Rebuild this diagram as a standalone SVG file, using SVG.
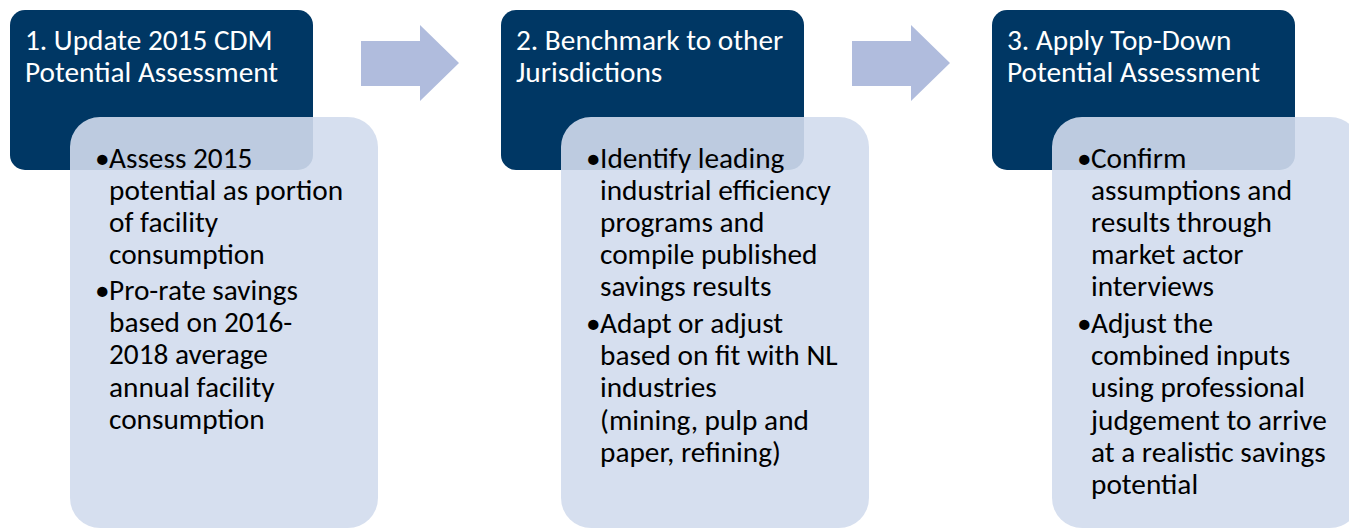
<svg xmlns="http://www.w3.org/2000/svg" width="1349" height="529" viewBox="0 0 1349 529">
<style>
.hdr{fill:#003764;}
.body{fill:#d1dced;fill-opacity:0.9;}
.arrow{fill:#b0bcdd;}
.t{font-family:Carlito,Lato,"Liberation Sans",sans-serif;font-size:29.3px;}
.ht{fill:#ffffff;}
.bt{fill:#000000;}
</style>
<g id="connectors">
<polygon class="arrow" points="361,41 420,41 420,25 459,63 420,101 420,86 361,86"/>
<polygon class="arrow" points="852,41 911,41 911,25 950,63 911,101 911,86 852,86"/>
</g>
<g id="step1">
<rect class="hdr" x="10" y="10" width="303" height="160" rx="15"/>
<text class="t ht" x="25" y="50">1. Update 2015 CDM</text>
<text class="t ht" x="25" y="82">Potential Assessment</text>
<rect class="body" x="70" y="117" width="308" height="411" rx="30"/>
<text class="t bt">
<tspan x="95" y="168">•</tspan><tspan x="109" y="168">Assess 2015</tspan>
<tspan x="109" y="200">potential as portion</tspan>
<tspan x="109" y="232">of facility</tspan>
<tspan x="109" y="264">consumption</tspan>
<tspan x="95" y="300">•</tspan><tspan x="109" y="300">Pro-rate savings</tspan>
<tspan x="109" y="332">based on 2016-</tspan>
<tspan x="109" y="364">2018 average</tspan>
<tspan x="109" y="397">annual facility</tspan>
<tspan x="109" y="429">consumption</tspan>
</text>
</g>
<g id="step2">
<rect class="hdr" x="501" y="10" width="303" height="160" rx="15"/>
<text class="t ht" x="516" y="50">2. Benchmark to other</text>
<text class="t ht" x="516" y="82">Jurisdictions</text>
<rect class="body" x="561" y="117" width="308" height="411" rx="30"/>
<text class="t bt">
<tspan x="586" y="168">•</tspan><tspan x="600" y="168">Identify leading</tspan>
<tspan x="600" y="200">industrial efficiency</tspan>
<tspan x="600" y="232">programs and</tspan>
<tspan x="600" y="264">compile published</tspan>
<tspan x="600" y="296">savings results</tspan>
<tspan x="586" y="333">•</tspan><tspan x="600" y="333">Adapt or adjust</tspan>
<tspan x="600" y="365">based on fit with NL</tspan>
<tspan x="600" y="397">industries</tspan>
<tspan x="600" y="430">(mining, pulp and</tspan>
<tspan x="600" y="462">paper, refining)</tspan>
</text>
</g>
<g id="step3">
<rect class="hdr" x="992" y="10" width="303" height="160" rx="15"/>
<text class="t ht" x="1007" y="50">3. Apply Top-Down</text>
<text class="t ht" x="1007" y="82">Potential Assessment</text>
<rect class="body" x="1052" y="117" width="308" height="411" rx="30"/>
<text class="t bt">
<tspan x="1077" y="168">•</tspan><tspan x="1091" y="168">Confirm</tspan>
<tspan x="1091" y="200">assumptions and</tspan>
<tspan x="1091" y="232">results through</tspan>
<tspan x="1091" y="264">market actor</tspan>
<tspan x="1091" y="296">interviews</tspan>
<tspan x="1077" y="333">•</tspan><tspan x="1091" y="333">Adjust the</tspan>
<tspan x="1091" y="365">combined inputs</tspan>
<tspan x="1091" y="397">using professional</tspan>
<tspan x="1091" y="430">judgement to arrive</tspan>
<tspan x="1091" y="462">at a realistic savings</tspan>
<tspan x="1091" y="494">potential</tspan>
</text>
</g>
</svg>
